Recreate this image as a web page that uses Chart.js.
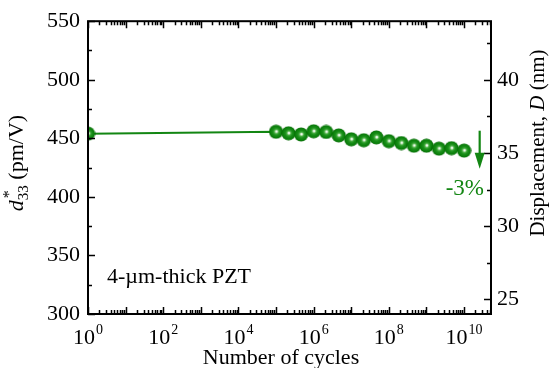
<!DOCTYPE html>
<html><head><meta charset="utf-8">
<script src="https://cdn.jsdelivr.net/npm/chart.js@4"></script>
<style>html,body{margin:0;padding:0;background:#fff}#wrap{width:550px;height:368px;position:relative}</style>
</head><body><div id="wrap"><canvas id="c" width="550" height="368"></canvas></div>
<script>
// ---- data ----
const cycles = [1, 1e5, 2.15e5, 4.64e5, 1e6, 2.15e6, 4.64e6, 1e7, 2.15e7, 4.64e7, 1e8, 2.15e8, 4.64e8, 1e9, 2.15e9, 4.64e9, 1e10];
const d33 = [454.0, 455.6, 454.3, 453.3, 456.0, 455.4, 452.5, 449.2, 448.4, 450.8, 447.6, 446.0, 443.7, 443.7, 441.2, 441.6, 439.5];
const leftTicks = [300, 350, 400, 450, 500, 550];
const rightTicks = [25, 30, 35, 40];
const xTickExps = [0, 2, 4, 6, 8, 10];
const arrowX = 2.6e10, arrowFrom = 456.5, arrowTo = 424;
const dropLabel = '-3%';
const sampleLabel = '4-µm-thick PZT';
const xTitle = 'Number of cycles';

const FONT = "'Liberation Serif', 'Times New Roman', serif";
const GREEN = '#138613';

// sphere marker image
function makeSphere(){
  const s = 15, c = document.createElement('canvas');
  c.width = s; c.height = s;
  const g = c.getContext('2d');
  const r = 7.1, cc = s / 2;
  const grd = g.createRadialGradient(cc + 0.5, cc - 0.3, 0.1, cc, cc, r);
  grd.addColorStop(0, '#ffffff');
  grd.addColorStop(0.1, '#e8f6e4');
  grd.addColorStop(0.28, '#4aae44');
  grd.addColorStop(0.5, '#1a901a');
  grd.addColorStop(0.85, '#0a7e0a');
  grd.addColorStop(1, '#056805');
  g.fillStyle = grd;
  g.beginPath(); g.arc(cc, cc, r, 0, Math.PI*2); g.fill();
  return c;
}
const sphere = makeSphere();

const decor = {
  id: 'decor',
  afterDraw(chart){
    const ctx = chart.ctx, a = chart.chartArea;
    const x = chart.scales.x, y = chart.scales.y, y2 = chart.scales.y2;
    ctx.save();
    ctx.strokeStyle = '#000'; ctx.lineWidth = 2;
    ctx.strokeRect(a.left, a.top, a.right - a.left, a.bottom - a.top);
    ctx.lineWidth = 1.5;
    ctx.beginPath();
    // left ticks
    for (let v = 300; v <= 550; v += 25){
      const py = Math.round(y.getPixelForValue(v)) + 0.5;
      const len = (v % 50 === 0) ? 7 : 4;
      ctx.moveTo(a.left, py); ctx.lineTo(a.left + len, py);
    }
    // right ticks
    for (let v = 25; v <= 44; v += 2.5){
      const py = Math.round(y2.getPixelForValue(v)) + 0.5;
      const len = (v % 5 === 0) ? 7 : 4;
      ctx.moveTo(a.right, py); ctx.lineTo(a.right - len, py);
    }
    // x ticks (log)
    for (let e = 0; e <= 10; e++){
      for (let m = 1; m <= 9; m++){
        const v = m * Math.pow(10, e);
        if (v > x.max) break;
        const px = Math.round(x.getPixelForValue(v)) + 0.5;
        const len = m === 1 ? 7 : 4;
        ctx.moveTo(px, a.bottom); ctx.lineTo(px, a.bottom - len);
        ctx.moveTo(px, a.top); ctx.lineTo(px, a.top + len);
      }
    }
    ctx.stroke();

    // x tick labels 10^n
    ctx.fillStyle = '#000';
    ctx.textBaseline = 'alphabetic';
    xTickExps.forEach(n => {
      const px = x.getPixelForValue(Math.pow(10, n));
      ctx.font = '22px ' + FONT;
      const wb = ctx.measureText('10').width;
      ctx.font = '14px ' + FONT;
      const we = ctx.measureText(String(n)).width;
      const x0 = px - (wb + we + 1) / 2;
      ctx.font = '22px ' + FONT; ctx.textAlign = 'left';
      ctx.fillText('10', x0, 344);
      ctx.font = '14px ' + FONT;
      ctx.fillText(String(n), x0 + wb + 1, 334);
    });

    // x title
    ctx.font = '22px ' + FONT; ctx.textAlign = 'center';
    ctx.fillText(xTitle, 281, 364);

    // left title: d*_33 (pm/V)
    ctx.save();
    ctx.translate(23, 163);
    ctx.rotate(-Math.PI/2);
    ctx.textAlign = 'left';
    ctx.font = 'italic 22px ' + FONT;
    const wd = ctx.measureText('d').width;
    ctx.font = '15px ' + FONT;
    const ws = ctx.measureText('33').width;
    ctx.font = '22px ' + FONT;
    const wr = ctx.measureText(' (pm/V)').width;
    let cx = -(wd + ws + wr) / 2;
    ctx.font = 'italic 22px ' + FONT; ctx.fillText('d', cx, 0); cx += wd;
    ctx.font = '15px ' + FONT; ctx.fillText('33', cx, 5);
    ctx.font = '16px ' + FONT; ctx.fillText('*', cx + 2, -9);
    cx += ws;
    ctx.font = '22px ' + FONT; ctx.fillText(' (pm/V)', cx, 0);
    ctx.restore();

    // right title: Displacement, D (nm)
    ctx.save();
    ctx.translate(544, 143);
    ctx.rotate(-Math.PI/2);
    ctx.textAlign = 'left';
    const p1 = 'Displacement, ', p2 = 'D', p3 = ' (nm)';
    ctx.font = '21px ' + FONT;
    const w1 = ctx.measureText(p1).width, w3 = ctx.measureText(p3).width;
    ctx.font = 'italic 21px ' + FONT;
    const w2 = ctx.measureText(p2).width;
    let rx = -(w1 + w2 + w3) / 2;
    ctx.font = '21px ' + FONT; ctx.fillText(p1, rx, 0); rx += w1;
    ctx.font = 'italic 21px ' + FONT; ctx.fillText(p2, rx, 0); rx += w2;
    ctx.font = '21px ' + FONT; ctx.fillText(p3, rx, 0);
    ctx.restore();

    // sample label
    ctx.font = '22px ' + FONT; ctx.textAlign = 'left'; ctx.fillStyle = '#000';
    ctx.fillText(sampleLabel, 107, 283);

    // arrow and drop label
    const ax = x.getPixelForValue(arrowX);
    const ay0 = y.getPixelForValue(arrowFrom), ay1 = y.getPixelForValue(arrowTo);
    ctx.strokeStyle = GREEN; ctx.fillStyle = GREEN; ctx.lineWidth = 2.2;
    ctx.beginPath(); ctx.moveTo(ax, ay0); ctx.lineTo(ax, ay1 - 12); ctx.stroke();
    ctx.beginPath();
    ctx.moveTo(ax - 5, ay1 - 16); ctx.lineTo(ax + 5, ay1 - 16); ctx.lineTo(ax, ay1);
    ctx.closePath(); ctx.fill();
    ctx.font = '23px ' + FONT; ctx.textAlign = 'right';
    ctx.fillText(dropLabel, 484, 195);
    ctx.restore();
  }
};

new Chart(document.getElementById('c'), {
  type: 'line',
  data: {
    datasets: [{
      data: cycles.map((c, i) => ({x: c, y: d33[i]})),
      borderColor: GREEN,
      borderWidth: 2,
      pointStyle: sphere,
      pointRadius: 7,
      tension: 0,
      clip: 0,
      yAxisID: 'y'
    }]
  },
  plugins: [decor],
  options: {
    responsive: false,
    animation: false,
    devicePixelRatio: 1,
    layout: {padding: {top: 20, bottom: 54, left: 0, right: 0}},
    plugins: {legend: {display: false}, tooltip: {enabled: false}},
    scales: {
      x: {type: 'logarithmic', min: 1, max: 5.2e10, display: false},
      y: {
        type: 'linear', position: 'left', min: 300, max: 550,
        grid: {display: false, drawTicks: false},
        border: {display: false},
        afterBuildTicks: s => { s.ticks = leftTicks.map(v => ({value: v})); },
        afterFit: s => { s.width = 88; },
        ticks: {padding: 8, color: '#000', font: {family: FONT, size: 22}, autoSkip: false}
      },
      y2: {
        type: 'linear', position: 'right', min: 24, max: 44,
        grid: {display: false, drawTicks: false},
        border: {display: false},
        afterBuildTicks: s => { s.ticks = rightTicks.map(v => ({value: v})); },
        afterFit: s => { s.width = 59; },
        ticks: {padding: 6, color: '#000', font: {family: FONT, size: 22}, autoSkip: false}
      }
    }
  }
});
</script></body></html>
